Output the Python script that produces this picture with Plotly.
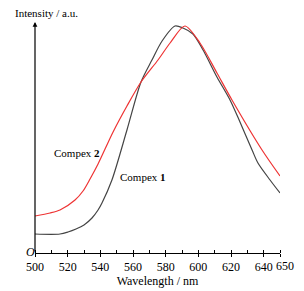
import plotly.graph_objects as go

# Data
wl1 = [500, 515.3, 520.2, 525.1, 530, 534.9, 538.6, 541, 547.1, 556.3, 564.9, 571.6, 577.8,
       585.7, 590.6, 596.7, 602.9, 611.4, 619.4, 625.5, 632.9, 636.5, 643.9, 650]
int1 = [19, 19, 21, 24, 28, 35, 43, 50, 73, 123, 171, 193, 212,
        227, 225, 219, 203, 176, 153, 131, 103, 90, 73, 60]
wl2 = [500, 509.2, 515.3, 524.5, 529.4, 533.7, 538.6, 547.8, 556.3, 564.9, 575.3, 582.7,
       591.8, 601, 611.4, 620.6, 639, 650]
int2 = [37, 40, 43, 53, 62, 74, 89, 121, 147, 171, 193, 210,
        227, 210, 180, 153, 103, 77]
xticks = [500, 520, 540, 560, 580, 600, 620, 640, 650]
xticklabels = ["500", "520", "540", "560", "580", "600", "620", "640", ""]
last_label = "650"

font = "Liberation Serif"
L, R, T, B = 35, 24, 23, 38
W, H = 304, 291
pw, ph = W - L - R, H - T - B


def px(x):
    return (x - L) / pw


def py(y):
    return (H - B - y) / ph


fig = go.Figure()
fig.add_trace(go.Scatter(x=wl1, y=int1, mode="lines", line=dict(color="#444444", width=1.2, shape="spline", smoothing=0.8)))
fig.add_trace(go.Scatter(x=wl2, y=int2, mode="lines", line=dict(color="#ee3333", width=1.2, shape="spline", smoothing=0.8)))

fig.update_layout(
    width=W, height=H, showlegend=False,
    margin=dict(l=L, r=R, t=T, b=B),
    paper_bgcolor="white", plot_bgcolor="white",
    font=dict(family=font, size=12, color="black"),
    xaxis=dict(range=[500, 650], tickvals=xticks, ticktext=xticklabels, ticks="outside", ticklen=3, tickwidth=1,
               tickangle=0, automargin=False,
               tickcolor="black", showline=True, linecolor="black", linewidth=1,
               showgrid=False, zeroline=False, tickfont=dict(size=12, family=font),
               minor=dict(dtick=10, tick0=500, ticks="inside", ticklen=3, tickcolor="black", showgrid=False),
               title=dict(text="Wavelength / nm", font=dict(size=12, family=font), standoff=2)),
    yaxis=dict(range=[0, 230], showticklabels=False, ticks="", showgrid=False, zeroline=False,
               showline=False, automargin=False),
    annotations=[
        dict(x=500, y=231, ax=500, ay=0, xref="x", yref="y", axref="x", ayref="y", text="",
             showarrow=True, arrowhead=2, arrowsize=0.8, arrowwidth=1.2, arrowcolor="black"),
        dict(x=px(13), y=py(13), xref="paper", yref="paper", text="Intensity / a.u.", showarrow=False,
             xanchor="left", yanchor="middle", font=dict(size=11, family=font)),
        dict(x=px(52), y=py(153), xref="paper", yref="paper", text="Compex <b>2</b>", showarrow=False,
             xanchor="left", yanchor="middle", font=dict(size=11, family=font)),
        dict(x=px(118), y=py(177), xref="paper", yref="paper", text="Compex <b>1</b>", showarrow=False,
             xanchor="left", yanchor="middle", font=dict(size=11, family=font)),
        dict(x=px(30), y=py(252), xref="paper", yref="paper", text="<i>O</i>", showarrow=False,
             xanchor="center", yanchor="middle", font=dict(size=12, family=font)),
        dict(x=px(284.5), y=py(266), xref="paper", yref="paper", text=last_label, showarrow=False,
             xanchor="center", yanchor="middle", font=dict(size=12, family=font)),
    ],
)

fig.write_html("out.html", config={"displayModeBar": False},
               post_script="document.body.style.margin='0';document.body.style.overflow='hidden';")
